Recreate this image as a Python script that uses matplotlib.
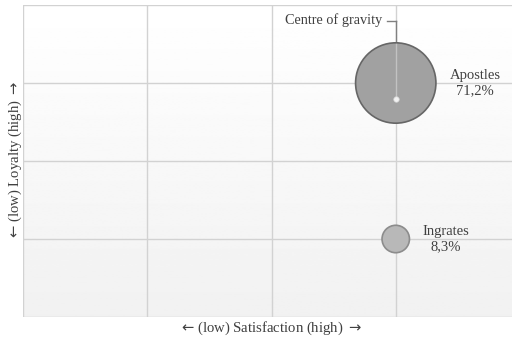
import numpy as np
import matplotlib.pyplot as plt

# segments: satisfaction, loyalty (grid units 0..4), share in %
segments = ["Apostles", "Ingrates"]
satisfaction = [3.0, 3.0]
loyalty = [3.0, 1.0]
share = [71.2, 8.3]
share_labels = ["71,2%", "8,3%"]
face_colors = ["#a1a1a1", "#b8b8b8"]
edge_colors = ["#666666", "#8c8c8c"]

# centre of gravity
cog_x = 3.0
cog_y = 2.8

plt.rcParams["font.family"] = ["Liberation Serif", "DejaVu Sans"]
plt.rcParams["mathtext.fontset"] = "dejavusans"

fig = plt.figure(figsize=(5.12, 3.39), dpi=100)
ax = fig.add_axes([23 / 512, 22 / 339, 497 / 512, 312 / 339])

# background gradient, white at top to light grey at bottom
grad = np.linspace(1.0, 0.945, 256).reshape(-1, 1)
ax.imshow(grad, extent=[0, 4, 0, 4], cmap="gray", vmin=0, vmax=1,
          aspect="auto", zorder=0, origin="upper")
ax.set_xlim(0, 4)
ax.set_ylim(0, 4)

for v in range(5):
    ax.axvline(v, color="#d2d2d2", lw=1.0, zorder=1)
    ax.axhline(v, color="#d2d2d2", lw=1.0, zorder=1)

for s in ax.spines.values():
    s.set_visible(False)
ax.set_xticks([])
ax.set_yticks([])

# bubbles, area proportional to share
sizes = [v * 47 for v in share]
ax.scatter(satisfaction, loyalty, s=sizes, c=face_colors, edgecolors=edge_colors,
           linewidths=1.2, zorder=3)

for x, y, name, lab, r in zip(satisfaction, loyalty, segments, share_labels, share):
    ax.text(x + 0.64 if r > 20 else x + 0.40, y, name + "\n" + lab, ha="center", va="center",
            fontsize=10.5, color="#404040", linespacing=1.15, zorder=4)

# centre of gravity marker and callout (lighter where it crosses the bubble)
ax.plot([cog_x, cog_x], [cog_y, 3.8], color="#808080", lw=1.0, zorder=2.5)
ax.plot([cog_x, cog_x], [cog_y, loyalty[0] + 0.5], color="#c2c2c2", lw=1.0, zorder=4)
ax.plot([cog_x - 0.07, cog_x], [3.8, 3.8], color="#808080", lw=1.0, zorder=4)
ax.scatter([cog_x], [cog_y], s=16, c="#f2f2f2", edgecolors="#d0d0d0", linewidths=0.5, zorder=5)
ax.text(cog_x - 0.11, 3.8, "Centre of gravity", ha="right", va="center",
        fontsize=10.3, color="#404040", zorder=4)

fig.text(271 / 512, 1 - 328 / 339, r"${\leftarrow}$(low) Satisfaction (high) ${\rightarrow}$",
         ha="center", va="center", fontsize=10.6, color="#404040")
fig.text(15 / 512, 1 - 160 / 339, r"${\leftarrow}$(low) Loyalty (high) ${\rightarrow}$",
         ha="center", va="center", rotation=90, fontsize=10.6, color="#404040")

fig.savefig("out.png", dpi=100)
